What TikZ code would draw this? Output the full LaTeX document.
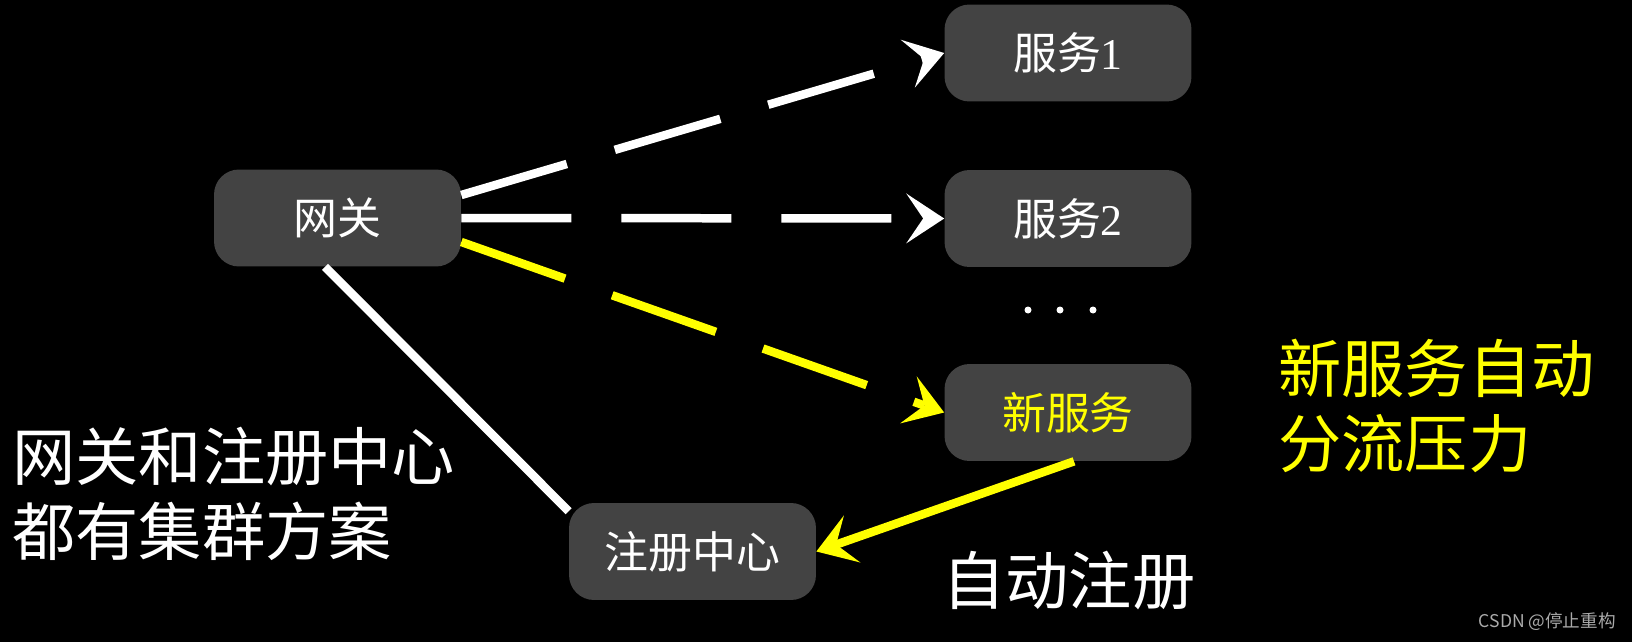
\documentclass[tikz,border=0pt]{standalone}
\usepackage{fontspec}
\usepackage{tikz}
\usepackage{xcolor}
\usetikzlibrary{arrows.meta,positioning}
\setmainfont{Liberation Serif}
\newfontfamily\cjk{Noto Sans CJK SC}
\definecolor{boxgray}{RGB}{67, 67, 67}
\definecolor{hiyellow}{RGB}{255, 255, 0}
\definecolor{markgray}{RGB}{170, 170, 170}

\begin{document}
\begin{tikzpicture}[
    x=0.02cm, y=-0.02cm,
    every node/.style={align=center},
    service/.style={rectangle, rounded corners=0.5cm, minimum width=4.94cm, minimum height=1.94cm, fill=boxgray, text=white, font=\fontsize{25}{30}\selectfont},
    bigtext/.style={inner sep=0pt, align=left, text=white, font=\cjk\fontsize{36}{42.7}\selectfont},
    tip/.style={-{Stealth[length=0.76cm, width=1.0cm, inset=0.34cm, line width=0pt]}},
    flow/.style={tip, draw=white, line width=0.17cm, dash pattern=on 2.2cm off 1cm},
    newflow/.style={flow, draw=hiyellow},
    link/.style={draw=white, line width=0.17cm},
    regarrow/.style={tip, draw=hiyellow, line width=0.17cm},
    wmark/.style={inner sep=0pt, text=markgray, font=\cjk\fontsize{10}{12}\selectfont}
]
\fill[black] (0,0) rectangle (1632,642);
\useasboundingbox (0,0) rectangle (1632,642);

% Gateway and services
\node[service] (gw) at (337.5,218) {\cjk 网关};
\node[service] (svc1) at (1068,53) {{\cjk 服务}1};
\node[service] (svc2) at (1068,218.5) {{\cjk 服务}2};
\node[service, text=hiyellow] (newsvc) at (1068,412.5) {\cjk 新服务};
\node[service] (reg) at (692.5,551.5) {\cjk 注册中心};

% more services
\foreach \x in {1028,1060,1093}
    \fill[white] (\x,310) circle (3.5);

% Connections
\draw[flow] ([yshift=0.46cm]gw.east) -- (svc1.west);
\draw[flow] (gw.east) -- (svc2.west);
\draw[newflow] ([yshift=-0.48cm]gw.east) -- (newsvc.west);
\draw[link] ([xshift=-0.25cm]gw.south) -- (reg.162);
\draw[regarrow] ([xshift=0.12cm]newsvc.south) -- (reg.east);

% Notes
\node[bigtext, anchor=west] (cluster) at (12,494) {网关和注册中心\\都有集群方案};
\node[bigtext, anchor=west, text=hiyellow] (balance) at (1278,406) {新服务自动\\分流压力};
\node[bigtext, anchor=west] (autoreg) at (942,581) {自动注册};
\node[wmark, anchor=east] (csdn) at (1616,622) {CSDN @停止重构};

\end{tikzpicture}
\end{document}
